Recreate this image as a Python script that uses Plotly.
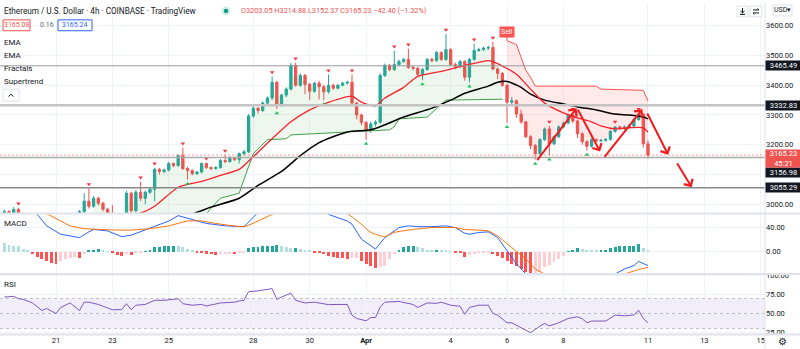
import pandas as pd
import plotly.graph_objects as go
from plotly.subplots import make_subplots

# ---------------- data ----------------
start_time = "2022-03-19 04:00"
bar_hours = 4

opens = [2960, 2975, 2968, 2982, 2965, 2955, 2962, 2950, 2935, 2925, 2938, 2920, 2915, 2932, 2945, 2955, 2940,
         2975, 3010, 2993, 3020, 3003, 2983, 2970, 2950, 2940, 2952, 3037, 2978, 3040, 3020, 3040, 3050,
         3117, 3110, 3115, 3137, 3130, 3163, 3120, 3113, 3103, 3108, 3137, 3123, 3120, 3123, 3147, 3143,
         3157, 3150, 3170, 3176, 3297, 3323, 3315, 3340, 3357, 3410, 3333, 3367, 3387, 3467, 3400, 3433,
         3403, 3380, 3407, 3395, 3378, 3400, 3390, 3400, 3407, 3410, 3340, 3300, 3275, 3250, 3270, 3276,
         3433, 3467, 3453, 3470, 3480, 3487, 3460, 3457, 3437, 3453, 3487, 3483, 3510, 3487, 3520, 3470,
         3463, 3480, 3427, 3487, 3517, 3520, 3525, 3527, 3455, 3440, 3400, 3343, 3348, 3303, 3277, 3227,
         3197, 3170, 3217, 3253, 3203, 3227, 3260, 3273, 3300, 3280, 3237, 3210, 3195, 3217, 3213, 3215,
         3218, 3245, 3260, 3255, 3260, 3263, 3285, 3303, 3203.05]
highs = [2982, 2980, 2990, 2988, 2972, 2968, 2966, 2955, 2942, 2944, 2942, 2928, 2938, 2950, 2962, 2960, 2980,
         3037, 3053, 3027, 3025, 3008, 2988, 2997, 2958, 2960, 3045, 3042, 3048, 3076, 3046, 3056, 3123,
         3122, 3120, 3142, 3140, 3168, 3190, 3126, 3117, 3112, 3140, 3140, 3127, 3128, 3152, 3166, 3161,
         3160, 3174, 3182, 3303, 3330, 3328, 3346, 3362, 3430, 3415, 3372, 3393, 3475, 3476, 3440, 3438,
         3408, 3412, 3415, 3402, 3436, 3405, 3404, 3412, 3415, 3436, 3345, 3305, 3280, 3278, 3282, 3440,
         3473, 3472, 3516, 3486, 3492, 3523, 3466, 3462, 3458, 3492, 3493, 3515, 3514, 3573, 3525, 3476,
         3485, 3484, 3492, 3540, 3526, 3530, 3533, 3546, 3460, 3445, 3405, 3360, 3352, 3318, 3280, 3232,
         3202, 3222, 3258, 3263, 3232, 3265, 3278, 3305, 3306, 3285, 3242, 3215, 3222, 3221, 3219, 3222,
         3250, 3263, 3264, 3265, 3268, 3290, 3306, 3305, 3214.88]
lows = [2955, 2962, 2962, 2960, 2945, 2948, 2940, 2928, 2915, 2918, 2910, 2905, 2910, 2925, 2938, 2932, 2936,
        2965, 2985, 2988, 2996, 2976, 2960, 2942, 2930, 2932, 2948, 2970, 2972, 3010, 3000, 3035, 3010,
        3100, 3104, 3110, 3124, 3126, 3115, 3083, 3097, 3098, 3104, 3118, 3114, 3116, 3120, 3138, 3140,
        3145, 3137, 3165, 3172, 3290, 3305, 3310, 3335, 3350, 3320, 3328, 3360, 3383, 3395, 3395, 3370,
        3350, 3375, 3352, 3350, 3372, 3385, 3386, 3396, 3403, 3333, 3285, 3265, 3217, 3240, 3262, 3270,
        3428, 3447, 3448, 3465, 3476, 3455, 3450, 3430, 3417, 3448, 3477, 3479, 3482, 3482, 3465, 3456,
        3458, 3415, 3410, 3482, 3512, 3515, 3518, 3450, 3420, 3395, 3274, 3335, 3290, 3270, 3222, 3185,
        3150, 3165, 3212, 3164, 3198, 3222, 3255, 3268, 3272, 3222, 3200, 3180, 3190, 3208, 3209, 3210,
        3214, 3240, 3250, 3250, 3255, 3258, 3280, 3190, 3152.37]
closes = [2975, 2968, 2982, 2965, 2955, 2962, 2950, 2935, 2925, 2938, 2920, 2915, 2932, 2945, 2955, 2940, 2975,
          3010, 2993, 3020, 3003, 2983, 2970, 2950, 2940, 2952, 3037, 2978, 3040, 3020, 3040, 3050, 3117,
          3110, 3115, 3137, 3130, 3163, 3120, 3113, 3103, 3108, 3137, 3123, 3120, 3123, 3147, 3143, 3157,
          3150, 3170, 3176, 3297, 3323, 3315, 3340, 3357, 3410, 3333, 3367, 3387, 3467, 3400, 3433, 3403,
          3380, 3407, 3395, 3378, 3400, 3390, 3400, 3407, 3410, 3340, 3300, 3275, 3250, 3270, 3276, 3433,
          3467, 3453, 3470, 3480, 3487, 3460, 3457, 3437, 3453, 3487, 3483, 3510, 3487, 3520, 3470, 3463,
          3480, 3427, 3487, 3517, 3520, 3525, 3527, 3455, 3440, 3400, 3343, 3348, 3303, 3277, 3227, 3197,
          3170, 3217, 3253, 3203, 3227, 3260, 3273, 3300, 3280, 3237, 3210, 3195, 3217, 3213, 3215, 3218,
          3245, 3260, 3255, 3260, 3263, 3285, 3303, 3203.05, 3165.23]

# EMA lines (bar index, value)
ema_fast_i = [22, 29, 32, 37, 42, 46, 50, 53, 57, 61, 65, 68, 74, 76, 79, 81, 85, 88, 93, 97, 101, 103, 105,
              109, 112, 115, 119, 122, 125, 127, 130, 133, 136, 137]
ema_fast_v = [2945, 2970, 2993, 3057, 3077, 3097, 3117, 3160, 3220, 3277, 3317, 3337, 3363, 3343, 3330, 3357,
              3393, 3430, 3447, 3463, 3477, 3483, 3473, 3437, 3387, 3340, 3307, 3290, 3277, 3263, 3253, 3257,
              3257, 3243]
ema_slow_i = [30, 40, 44, 50, 54, 59, 63, 67, 73, 78, 81, 85, 91, 95, 98, 103, 105, 107, 110, 112, 115, 119,
              122, 126, 130, 133, 136, 137]
ema_slow_v = [2940, 2967, 2990, 3020, 3063, 3110, 3163, 3207, 3243, 3250, 3267, 3293, 3323, 3350, 3373, 3397,
              3410, 3413, 3393, 3370, 3350, 3337, 3327, 3317, 3303, 3300, 3293, 3287]

# Supertrend
st_up_i = [19, 35, 43, 44, 46, 50, 51, 53, 56, 60, 61, 72, 82, 83, 84, 90, 92, 94, 106]
st_up_v = [2900, 2960, 2967, 2987, 3020, 3037, 3083, 3170, 3217, 3220, 3233, 3243, 3250, 3260, 3287, 3293,
           3320, 3350, 3353]
st_dn_i = [107, 109, 111, 112, 113, 126, 127, 136, 137]
st_dn_v = [3550, 3537, 3450, 3427, 3397, 3397, 3387, 3383, 3347]
sell_bar = 107

# Fractals (bar indices)
frac_up = [3, 18, 29, 32, 38, 43, 47, 57, 62, 69, 74, 83, 86, 94, 100, 104, 116, 121, 130, 135]
frac_dn = [39, 58, 68, 77, 89, 99, 107, 113, 116, 124]

# Horizontal levels
levels = [3465.49, 3332.83, 3156.98, 3055.29]
last_price = 3165.23

# Drawn arrows (bar index float, price)
arrow_b0 = [113.2, 121.9, 127.5, 136.7, 143.0]
arrow_p0 = [3143, 3323, 3154, 3310, 3143]
arrow_b1 = [121.8, 126.8, 135.8, 141.3, 146.3]
arrow_p1 = [3323, 3177, 3319, 3166, 3057]

# MACD
macd_hist = [14, 11, 10, 9, 4, 2, -4, -9, -12, -15, -18, -20, -15, -12, -11, -9, -10, -4, 2, 3, 4, 3, 1, -2,
             -5, -8, -4, -5, -2, -1, 1, 3, 7, 8, 9, 9.5, 10, 9, 7, 4, 2, -2.2, -2.7, -3.3, -4.4, -5.5, -4.4,
             -4.3, -3.8, -4.4, -2.7, -1.6, 5.5, 7.1, 8.2, 8.8, 9.3, 9.9, 11, 8.8, 7.1, 5.5, 5.8, 4.4, 3.3, 1.1,
             -1.1, -2.2, -3.8,
             -6.6, -8.2, -9.9, -11, -12, -11, -10.5, -15, -20, -24, -27, -26, -23, -13, -4, 3, 7, 9, 10, 7,
             5.5, 3, 2, 3, 2, 1.8, 0.5, -1.1, -2.7, -8.2, -5.5, -3.8, -2.7, -1.6, -1.1, -3.8, -6.6, -10.4,
             -14.8, -20, -24, -28.5, -34, -40, -38, -33, -26, -22, -16.4, -12, -6.6, 0.5, 2.2, 6, 4.4, 2.7,
             1.6, 1.1, 2.2, 3.3, 5.5, 7.7, 9.3, 9.4, 9.5, 10, 12.6, 6.6, 1.6]
macd_i = [0, 4, 7, 9, 12, 13, 16, 18, 19, 22, 25, 27, 30, 32, 35, 37, 40, 43, 47, 51, 54, 58, 62, 66, 69, 73,
          74, 76, 79, 81, 84, 86, 88, 91, 94, 96, 98, 99, 101, 103, 105, 107, 109, 111, 113, 116, 119, 122,
          125, 127, 130, 132, 134, 135, 137]
macd_v = [100, 80, 62, 43, 29, 27.5, 23.5, 33, 37, 34.5, 25, 27.5, 36, 43, 51, 60, 54, 47, 43, 41.6, 65, 85,
          95, 88, 62, 51, 45.5, 21, 4.4, 23.5, 40, 43, 41.6, 41.6, 43, 40, 30.7, 29, 32, 33, 23.5, 1.6, -20,
          -37, -52, -65, -68, -62, -50, -42, -37, -28.5, -23, -16, -23]
signal_i = [0, 5, 9, 12, 14, 17, 20, 24, 27, 31, 35, 39, 42, 45, 51, 54, 57, 61, 65, 69, 73, 76, 78, 81, 83,
            87, 91, 96, 98, 103, 105, 108, 111, 113, 115, 118, 122, 126, 129, 132, 135, 137]
signal_v = [85, 72, 63, 51, 43, 38.4, 37, 36, 36, 38.4, 43, 51, 51, 47, 41.6, 51, 62, 78, 85, 70, 63, 45.5, 32,
            25, 32, 37, 40, 40, 37, 34.5, 26, 7, -12, -28.5, -37, -52, -60, -55, -45, -37, -29.6, -26]

# RSI
rsi_i = [0, 2, 3, 4, 6, 8, 9, 11, 12, 14, 16, 17, 18, 20, 23, 25, 26, 27, 28, 30, 32, 34, 36, 37, 38, 40, 42,
         43, 46, 49, 50, 51, 52, 54, 57, 58, 59, 61, 62, 64, 66, 69, 71, 73, 74, 75, 77, 78, 79, 80, 81, 84, 87,
         88, 90, 92, 93, 95, 97, 98, 99, 101, 103, 104, 105, 107, 108, 110, 112, 114, 115, 116, 118, 120, 121,
         122, 123, 124, 125, 128, 130, 132, 134, 135, 136, 137]
rsi_v = [71.8, 72.8, 69.7, 68.8, 64, 54, 56.6, 50, 58, 64, 54, 65, 65, 62, 55, 55.2, 63, 55, 61, 62, 67.5, 67.5,
         68.8, 69.7, 63, 61, 62, 60, 64, 65, 66.6, 67.5, 79, 80, 83, 68.8, 71.8, 77, 67.5, 64, 65, 61.8, 62, 62,
         47.8, 43.4, 40.3, 44.7, 44.7, 58.7, 65, 66, 62, 58, 64, 63.5, 65, 61, 59.6, 49, 58, 61, 61, 50, 47.8,
         37.7, 37.7, 31.6, 24.5, 33.3, 36.8, 33.5, 37.7, 43.4, 44.5, 45.6, 43, 37.7, 40, 40, 47.8, 47, 48, 54.4,
         43.4, 37.7]

tick_dates = ["2022-03-21", "2022-03-23", "2022-03-25", "2022-03-28", "2022-03-30", "2022-04-01",
              "2022-04-04", "2022-04-06", "2022-04-08", "2022-04-11", "2022-04-13", "2022-04-15"]
tick_text = ["21", "23", "25", "28", "30", "<b>Apr</b>", "4", "6", "8", "11", "13", "15"]
x_range = ["2022-03-19 00:19", "2022-04-15 03:37"]

# ---------------- helpers ----------------
T0 = pd.Timestamp(start_time)


def tm(b):
    return (T0 + pd.Timedelta(hours=bar_hours * b)).strftime("%Y-%m-%d %H:%M:%S")


times = [tm(i) for i in range(len(closes))]
mids = [(o + c) / 2 for o, c in zip(opens, closes)]

W_PLOT, H_PLOT = 765.0, 334.0


def PX(x):
    return x / W_PLOT


def PY(y):
    return 1 - y / H_PLOT


UP, DN = "#26a69a", "#ef5350"
TXT = "#131722"
GRID = "#f0f3fa"

fig = make_subplots(rows=3, cols=1, shared_xaxes=True, vertical_spacing=0)

# supertrend fills
def fill_poly(i0, i1, li, lv, color):
    xs = [times[i] for i in range(i0, i1 + 1)] + [tm(b) for b in reversed(li)]
    ys = [mids[i] for i in range(i0, i1 + 1)] + list(reversed(lv))
    fig.add_trace(go.Scatter(x=xs, y=ys, fill="toself", fillcolor=color, mode="lines",
                             line=dict(width=0), hoverinfo="skip"), row=1, col=1)


fill_poly(st_up_i[0], st_up_i[-1], st_up_i, st_up_v, "rgba(76,175,80,0.10)")
fill_poly(st_dn_i[0], st_dn_i[-1], st_dn_i, st_dn_v, "rgba(255,82,82,0.13)")

fig.add_trace(go.Candlestick(x=times, open=opens, high=highs, low=lows, close=closes,
                             increasing=dict(line=dict(color=UP, width=1), fillcolor=UP),
                             decreasing=dict(line=dict(color=DN, width=1), fillcolor=DN),
                             whiskerwidth=0, hoverinfo="skip"), row=1, col=1)

fig.add_trace(go.Scatter(x=[tm(b) for b in st_up_i], y=st_up_v, mode="lines",
                         line=dict(color="#43a047", width=1)), row=1, col=1)
fig.add_trace(go.Scatter(x=[tm(b) for b in st_dn_i], y=st_dn_v, mode="lines",
                         line=dict(color="#ff5252", width=1)), row=1, col=1)
fig.add_trace(go.Scatter(x=[tm(b) for b in ema_slow_i], y=ema_slow_v, mode="lines",
                         line=dict(color="#000000", width=1.5, shape="spline", smoothing=0.6)), row=1, col=1)
fig.add_trace(go.Scatter(x=[tm(b) for b in ema_fast_i], y=ema_fast_v, mode="lines",
                         line=dict(color="#f5222d", width=1.3, shape="spline", smoothing=0.6)), row=1, col=1)

fig.add_trace(go.Scatter(x=[times[i] for i in frac_up], y=[highs[i] + 14 for i in frac_up], mode="markers",
                         marker=dict(symbol="triangle-down", size=4, color="#f23645")), row=1, col=1)
fig.add_trace(go.Scatter(x=[times[i] for i in frac_dn], y=[lows[i] - 14 for i in frac_dn], mode="markers",
                         marker=dict(symbol="triangle-up", size=4, color="#22c55e")), row=1, col=1)

# MACD
hist_colors = []
for j, h in enumerate(macd_hist):
    prev = macd_hist[j - 1] if j > 0 else h
    if h >= 0:
        hist_colors.append("#26a69a" if h > prev else "#b2dfdb")
    else:
        hist_colors.append("#ffcdd2" if h > prev else "#ff5252")
fig.add_trace(go.Bar(x=times, y=macd_hist, marker=dict(color=hist_colors, line=dict(width=0)),
                     width=bar_hours * 3600 * 1000 * 0.62, hoverinfo="skip"), row=2, col=1)
fig.add_trace(go.Scatter(x=[tm(b) for b in macd_i], y=macd_v, mode="lines",
                         line=dict(color="#2962ff", width=1)), row=2, col=1)
fig.add_trace(go.Scatter(x=[tm(b) for b in signal_i], y=signal_v, mode="lines",
                         line=dict(color="#ff6d00", width=1, shape="spline", smoothing=0.5)), row=2, col=1)

# RSI
fig.add_trace(go.Scatter(x=[tm(b) for b in rsi_i], y=rsi_v, mode="lines",
                         line=dict(color="#7e57c2", width=1)), row=3, col=1)

shapes = []
annotations = []

# RSI band
shapes.append(dict(type="rect", xref="paper", yref="y3", x0=0, x1=1, y0=30, y1=70,
                   fillcolor="rgba(126,87,194,0.10)", line=dict(width=0), layer="below"))
for lv in [70, 50, 30]:
    shapes.append(dict(type="line", xref="paper", yref="y3", x0=0, x1=1, y0=lv, y1=lv,
                       line=dict(color="rgba(120,123,134,0.45)", width=1, dash="3px,3px")))

# levels
lvl_style = [("#9a9a9a", 1), ("#c4c4c4", 2.5), ("#ababab", 1.5), ("#8a8a8a", 1.5)]
for lv, (c, w) in zip(levels, lvl_style):
    shapes.append(dict(type="line", xref="paper", yref="y", x0=0, x1=1, y0=lv, y1=lv,
                       line=dict(color=c, width=w)))
shapes.append(dict(type="line", xref="paper", yref="y", x0=0, x1=1, y0=last_price, y1=last_price,
                   line=dict(color="rgba(239,83,80,0.55)", width=1, dash="2px,2px")))

# separators
for yy in [212.5, 273.5, 334.5]:
    shapes.append(dict(type="line", xref="paper", yref="paper", x0=0, x1=PX(800), y0=PY(yy), y1=PY(yy),
                       line=dict(color="#e0e3eb", width=2)))
shapes.append(dict(type="line", xref="paper", yref="paper", x0=1, x1=1, y0=PY(349), y1=1,
                   line=dict(color="#e0e3eb", width=1)))

# arrows
for b0, p0, b1, p1 in zip(arrow_b0, arrow_p0, arrow_b1, arrow_p1):
    annotations.append(dict(x=tm(b1), y=p1, ax=tm(b0), ay=p0, xref="x", yref="y", axref="x", ayref="y",
                            showarrow=True, arrowhead=4, arrowsize=1, arrowwidth=2, arrowcolor="#f21b1b",
                            text="", standoff=0, startstandoff=0))

# Sell label
annotations.append(dict(x=tm(sell_bar), y=st_dn_v[0], xref="x", yref="y", text="Sell", showarrow=True,
                        arrowhead=0, arrowwidth=1, arrowcolor="#ff5252", ax=0, ay=-9,
                        bgcolor="#ff5252", font=dict(color="white", size=7, family="Roboto"), borderpad=1))

# price-axis labels for levels
lvl_shift = [0, 0, -15, 0]
for lv, sh in zip(levels, lvl_shift):
    annotations.append(dict(x=1, y=lv, xref="paper", yref="y", xanchor="left", yanchor="middle",
                            text=f"{lv:.2f}", showarrow=False, bgcolor=TXT, width=35, height=9,
                            borderpad=0, yshift=sh, font=dict(color="white", size=7.5, family="Roboto")))
annotations.append(dict(x=1, y=last_price, xref="paper", yref="y", xanchor="left", yanchor="middle",
                        text=f"{last_price:.2f}<br>45:21", showarrow=False, bgcolor="#ef5350", width=35,
                        height=17, borderpad=0, yshift=-3,
                        font=dict(color="white", size=7.5, family="Roboto")))


def label(x, y, text, size=8, color=TXT, anchor="left"):
    annotations.append(dict(x=PX(x), y=PY(y), xref="paper", yref="paper", xanchor=anchor, yanchor="middle",
                            text=text, showarrow=False, font=dict(size=size, color=color, family="Roboto")))


def box(x0, y0, x1, y1, color):
    shapes.append(dict(type="rect", xref="paper", yref="paper", x0=PX(x0), x1=PX(x1), y0=PY(y1), y1=PY(y0),
                       line=dict(color=color, width=1), fillcolor="white"))


label(2, 8, "Ethereum / U.S. Dollar · 4h · COINBASE · TradingView", 8.2)
shapes.append(dict(type="circle", xref="paper", yref="paper", x0=PX(221.5), x1=PX(230.5), y0=PY(12.5),
                   y1=PY(3.5), fillcolor="rgba(8,153,129,0.18)", line=dict(width=0)))
shapes.append(dict(type="circle", xref="paper", yref="paper", x0=PX(223.8), x1=PX(228.2), y0=PY(10.2),
                   y1=PY(5.8), fillcolor="#089981", line=dict(width=0)))
label(239, 8, "O3203.05 H3214.88 L3152.37 C3165.23 −42.40 (−1.32%)", 7.3, "#ef5350")
box(3, 17, 30, 28, "#ef5350")
label(16.5, 22.5, "3165.08", 7, "#ef5350", "center")
label(47, 22.5, "0.16", 7, "#6a6d78", "center")
box(58, 17, 92, 28, "#2962ff")
label(75, 22.5, "3165.24", 7, "#2962ff", "center")
label(2, 39.5, "EMA")
label(2, 53, "EMA")
label(2, 66, "Fractals")
label(2, 79.5, "Supertrend")
box(3, 87, 19, 99, "#e0e3eb")
shapes.append(dict(type="path", xref="paper", yref="paper",
                   path=f"M{PX(8.5)},{PY(94.5)} L{PX(11)},{PY(92)} L{PX(13.5)},{PY(94.5)}",
                   line=dict(color=TXT, width=1)))
label(2, 222, "MACD")
label(2, 284, "RSI")

# top-right icons
box(737, 3, 748, 14, "#e0e3eb")
shapes.append(dict(type="path", xref="paper", yref="paper",
                   path=(f"M{PX(742.5)},{PY(5)} L{PX(742.5)},{PY(10)} M{PX(740.5)},{PY(8)} L{PX(742.5)},{PY(10)} "
                         f"L{PX(744.5)},{PY(8)} M{PX(740)},{PY(11.5)} L{PX(745)},{PY(11.5)}"),
                   line=dict(color=TXT, width=1)))
box(750, 3, 762, 14, "#e0e3eb")
shapes.append(dict(type="path", xref="paper", yref="paper",
                   path=(f"M{PX(753)},{PY(7)} L{PX(759)},{PY(7)} L{PX(757.5)},{PY(5.5)} "
                         f"M{PX(759)},{PY(10)} L{PX(753)},{PY(10)} L{PX(754.5)},{PY(11.5)}"),
                   line=dict(color=TXT, width=1)))
box(773, 2, 792, 13, "#e0e3eb")
label(782.5, 7.5, "USD▾", 7, TXT, "center")
label(783, 342, "⚙", 10, TXT, "center")

fig.update_layout(
    width=800, height=349, margin=dict(l=0, r=35, t=0, b=15),
    plot_bgcolor="white", paper_bgcolor="white", showlegend=False, bargap=0,
    font=dict(family="Roboto", color=TXT, size=8),
    shapes=shapes, annotations=annotations,
    yaxis=dict(domain=[PY(212), 1], range=[2970, 3676.7], side="right",
               tickvals=[3000, 3100, 3200, 3300, 3400, 3500, 3600],
               ticktext=["3000.00", "", "3200.00", "3300.00", "3400.00", "3500.00", "3600.00"]),
    yaxis2=dict(domain=[PY(273), PY(213)], range=[-36.2, 62.5], side="right",
                tickvals=[0, 40], ticktext=["0.00", "40.00"]),
    yaxis3=dict(domain=[0, PY(274)], range=[22.8, 101.7], side="right",
                tickvals=[25, 50, 75, 100], ticktext=["25.00", "50.00", "75.00", "100.00"]),
)
fig.update_yaxes(showgrid=True, gridcolor=GRID, zeroline=False, showline=False, ticks="",
                 tickfont=dict(size=7.5, color=TXT, family="Roboto"), fixedrange=True)
fig.update_xaxes(type="date", range=x_range, tickmode="array", tickvals=tick_dates, ticktext=tick_text,
                 showgrid=True, gridcolor=GRID, zeroline=False, showline=False, ticks="",
                 rangeslider=dict(visible=False), tickfont=dict(size=7.5, color=TXT, family="Roboto"))
fig.update_xaxes(showticklabels=False, row=1, col=1)
fig.update_xaxes(showticklabels=False, row=2, col=1)

fig.write_html("out.html")
